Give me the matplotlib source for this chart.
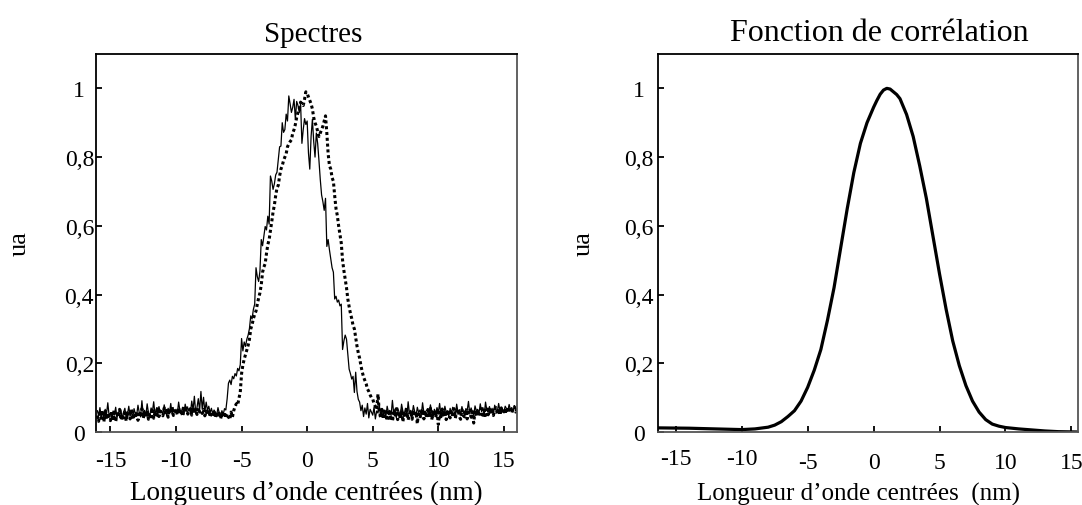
import numpy as np
import matplotlib
matplotlib.use("Agg")
from matplotlib import pyplot as plt

plt.rcParams['font.family'] = ['Liberation Serif', 'DejaVu Serif']

# wavelength grid of the two spectra (nm), 0.1 nm step from -16 to 16
wl = np.arange(-160, 161) / 10.0

# solid spectrum, one row per nm
spec_solid = [
    0.062, 0.048, 0.071, 0.044, 0.058, 0.039, 0.066, 0.052, 0.085, 0.047,
    0.055, 0.036, 0.061, 0.049, 0.072, 0.041, 0.058, 0.045, 0.064, 0.038,
    0.057, 0.069, 0.043, 0.052, 0.075, 0.046, 0.061, 0.040, 0.068, 0.053,
    0.049, 0.078, 0.056, 0.044, 0.091, 0.051, 0.063, 0.047, 0.082, 0.055,
    0.048, 0.070, 0.059, 0.088, 0.050, 0.067, 0.045, 0.074, 0.058, 0.062,
    0.051, 0.079, 0.060, 0.047, 0.069, 0.056, 0.083, 0.052, 0.064, 0.058,
    0.066, 0.054, 0.087, 0.061, 0.057, 0.072, 0.050, 0.081, 0.063, 0.059,
    0.068, 0.055, 0.090, 0.064, 0.104, 0.058, 0.071, 0.097, 0.062, 0.118,
    0.066, 0.101, 0.059, 0.087, 0.063, 0.075, 0.056, 0.069, 0.052, 0.064,
    0.058, 0.049, 0.071, 0.055, 0.046, 0.062, 0.051, 0.068, 0.064, 0.097,
    0.142, 0.151, 0.138, 0.162, 0.155, 0.170, 0.163, 0.185, 0.178, 0.196,
    0.272, 0.236, 0.262, 0.249, 0.270, 0.282, 0.301, 0.338, 0.329, 0.357,
    0.372, 0.478, 0.452, 0.438, 0.468, 0.560, 0.542, 0.571, 0.598, 0.588,
    0.628, 0.605, 0.745, 0.730, 0.706, 0.722, 0.748, 0.756, 0.792, 0.830,
    0.832, 0.900, 0.872, 0.880, 0.925, 0.905, 0.978, 0.955, 0.930, 0.945,
    0.968, 0.910, 0.962, 0.950, 0.930, 0.955, 0.840, 0.880, 0.912, 0.895,
    0.905, 0.812, 0.765, 0.860, 0.910, 0.845, 0.800, 0.870, 0.840, 0.790,
    0.735, 0.690, 0.670, 0.645, 0.680, 0.540, 0.560, 0.530, 0.505, 0.478,
    0.465, 0.387, 0.395, 0.378, 0.384, 0.367, 0.372, 0.240, 0.265, 0.282,
    0.270, 0.225, 0.183, 0.170, 0.154, 0.162, 0.115, 0.174, 0.118, 0.095,
    0.087, 0.062, 0.078, 0.045, 0.070, 0.052, 0.083, 0.041, 0.066, 0.058,
    0.049, 0.072, 0.038, 0.061, 0.055, 0.080, 0.046, 0.067, 0.052, 0.059,
    0.044, 0.075, 0.057, 0.063, 0.048, 0.092, 0.054, 0.066, 0.041, 0.070,
    0.058, 0.047, 0.081, 0.060, 0.052, 0.069, 0.043, 0.088, 0.055, 0.063,
    0.050, 0.077, 0.059, 0.046, 0.072, 0.057, 0.064, 0.049, 0.085, 0.056,
    0.061, 0.045, 0.068, 0.053, 0.079, 0.058, 0.042, 0.066, 0.054, 0.071,
    0.057, 0.083, 0.050, 0.064, 0.047, 0.075, 0.058, 0.062, 0.044, 0.069,
    0.055, 0.072, 0.060, 0.048, 0.081, 0.057, 0.065, 0.051, 0.074, 0.059,
    0.046, 0.068, 0.062, 0.089, 0.053, 0.070, 0.058, 0.049, 0.076, 0.061,
    0.066, 0.054, 0.082, 0.059, 0.071, 0.048, 0.087, 0.063, 0.057, 0.074,
    0.060, 0.069, 0.052, 0.078, 0.064, 0.058, 0.083, 0.061, 0.072, 0.066,
    0.059, 0.075, 0.068, 0.062, 0.080, 0.065, 0.071, 0.060, 0.077, 0.068,
    0.066,
]

# dotted spectrum
spec_dotted = [
    0.048, 0.031, 0.062, 0.040, 0.057, 0.029, 0.064, 0.037, 0.055, 0.043,
    0.033, 0.061, 0.039, 0.058, 0.030, 0.052, 0.044, 0.066, 0.035, 0.050,
    0.041, 0.063, 0.032, 0.056, 0.045, 0.038, 0.067, 0.036, 0.054, 0.042,
    0.060, 0.034, 0.053, 0.046, 0.068, 0.039, 0.057, 0.043, 0.062, 0.037,
    0.055, 0.044, 0.069, 0.040, 0.058, 0.049, 0.072, 0.045, 0.061, 0.051,
    0.047, 0.070, 0.052, 0.063, 0.043, 0.067, 0.054, 0.074, 0.048, 0.060,
    0.066, 0.050, 0.071, 0.053, 0.064, 0.046, 0.069, 0.057, 0.075, 0.052,
    0.060, 0.068, 0.049, 0.072, 0.055, 0.065, 0.051, 0.070, 0.058, 0.063,
    0.054, 0.066, 0.047, 0.061, 0.050, 0.064, 0.043, 0.059, 0.046, 0.062,
    0.041, 0.057, 0.044, 0.060, 0.038, 0.055, 0.042, 0.058, 0.040, 0.053,
    0.045, 0.036, 0.058, 0.043, 0.062, 0.074, 0.082, 0.078, 0.098, 0.116,
    0.170, 0.195, 0.212, 0.225, 0.238, 0.252, 0.270, 0.300, 0.312, 0.330,
    0.342, 0.352, 0.372, 0.390, 0.405, 0.428, 0.465, 0.480, 0.490, 0.520,
    0.545, 0.560, 0.585, 0.612, 0.640, 0.660, 0.688, 0.710, 0.718, 0.745,
    0.765, 0.775, 0.790, 0.800, 0.810, 0.830, 0.838, 0.845, 0.850, 0.870,
    0.880, 0.895, 0.915, 0.930, 0.940, 0.960, 0.955, 0.950, 0.968, 0.990,
    0.985, 0.975, 0.965, 0.955, 0.940, 0.915, 0.900, 0.890, 0.875, 0.860,
    0.870, 0.880, 0.890, 0.905, 0.920, 0.870, 0.810, 0.775, 0.765, 0.740,
    0.730, 0.687, 0.650, 0.630, 0.600, 0.575, 0.550, 0.500, 0.470, 0.445,
    0.420, 0.387, 0.365, 0.345, 0.330, 0.310, 0.300, 0.275, 0.250, 0.230,
    0.215, 0.193, 0.175, 0.160, 0.150, 0.140, 0.125, 0.118, 0.108, 0.100,
    0.096, 0.082, 0.074, 0.065, 0.110, 0.058, 0.042, 0.066, 0.038, 0.061,
    0.047, 0.033, 0.064, 0.040, 0.058, 0.031, 0.055, 0.044, 0.068, 0.036,
    0.057, 0.039, 0.062, 0.030, 0.059, 0.042, 0.066, 0.035, 0.053, 0.061,
    0.037, 0.064, 0.045, 0.058, 0.024, 0.060, 0.040, 0.057, 0.066, 0.038,
    0.061, 0.041, 0.065, 0.044, 0.069, 0.036, 0.058, 0.063, 0.042, 0.060,
    0.022, 0.058, 0.039, 0.067, 0.045, 0.062, 0.036, 0.064, 0.048, 0.041,
    0.063, 0.043, 0.068, 0.040, 0.060, 0.066, 0.045, 0.037, 0.065, 0.048,
    0.044, 0.064, 0.038, 0.061, 0.067, 0.043, 0.059, 0.026, 0.063, 0.047,
    0.065, 0.045, 0.062, 0.068, 0.042, 0.064, 0.048, 0.067, 0.050, 0.070,
    0.051, 0.069, 0.048, 0.066, 0.071, 0.052, 0.068, 0.049, 0.070, 0.055,
    0.068, 0.052, 0.071, 0.056, 0.069, 0.072, 0.055, 0.070, 0.073, 0.058,
    0.066,
]

# correlation function, read point by point
corr_x = [-16.35, -14, -12, -10, -9, -8, -7.5, -7, -6.5, -6, -5.5, -5,
          -4.5, -4, -3.5, -3, -2.5, -2, -1.5, -1, -0.5, 0, 0.25, 0.5, 0.75,
          1, 1.25, 1.5, 1.75, 2, 2.5, 3, 3.5, 4, 4.5, 5, 5.5, 6, 6.5, 7,
          7.5, 8, 8.5, 9, 9.5, 10, 11, 12, 13, 14, 15.5]
corr_y = [0.012, 0.011, 0.009, 0.007, 0.009, 0.014, 0.02, 0.03, 0.045,
          0.062, 0.09, 0.13, 0.18, 0.24, 0.325, 0.42, 0.535, 0.65, 0.755,
          0.84, 0.90, 0.945, 0.965, 0.983, 0.995, 1.0, 0.998, 0.99, 0.982,
          0.97, 0.924, 0.86, 0.774, 0.68, 0.57, 0.46, 0.357, 0.265, 0.193,
          0.135, 0.09, 0.058, 0.036, 0.023, 0.017, 0.013, 0.009, 0.006,
          0.003, 0.001, 0.0]

xticks = [-15, -10, -5, 0, 5, 10, 15]
yticks = [0, 0.2, 0.4, 0.6, 0.8, 1]
ylabels = ['0', '0,2', '0,4', '0,6', '0,8', '1']


def style(ax, xpad, ypad):
    ax.set_ylim(0, 1.1)
    ax.set_xticks(xticks)
    ax.set_xticklabels([str(t) for t in xticks])
    ax.set_yticks(yticks)
    ax.set_yticklabels(ylabels)
    ax.tick_params(direction='in', length=4, width=1.3, labelsize=17,
                   top=False, right=False)
    ax.tick_params(axis='x', pad=xpad)
    ax.tick_params(axis='y', pad=ypad)
    for lbl in ax.get_yticklabels():
        lbl.set_horizontalalignment('center')
    for s in ['left', 'top']:
        ax.spines[s].set_linewidth(1.3)
        ax.spines[s].set_color('black')
    for s in ['bottom', 'right']:
        ax.spines[s].set_linewidth(1.3)
        ax.spines[s].set_color('#555555')


fig = plt.figure(figsize=(10.82, 5.06), dpi=100)

ax1 = fig.add_axes([96 / 1082, 73 / 506, 421 / 1082, 378 / 506])
ax1.plot(wl, spec_solid, color='black', lw=0.9)
ax1.plot(wl, spec_dotted, color='black', lw=2.2, linestyle=(0, (1, 0.9)))
ax1.set_xlim(-16.1, 16.0)
style(ax1, 13, 12)
ax1.set_title('Spectres', fontsize=21, x=0.515, pad=9)
ax1.set_xlabel('Longueurs d\u2019onde centrées (nm)', fontsize=19.5)
ax1.xaxis.set_label_coords(0.5, -0.126)
ax1.set_ylabel('ua', fontsize=19)
ax1.yaxis.set_label_coords(-0.155, 0.5)

ax2 = fig.add_axes([658 / 1082, 73 / 506, 420 / 1082, 378 / 506])
ax2.plot(corr_x, corr_y, color='black', lw=2.3)
ax2.set_xlim(-16.35, 15.5)
style(ax2, 14.5, 14)
# the first two tick labels sit a little higher in the reference
for t in ax2.xaxis.get_major_ticks()[:2]:
    t.set_pad(11.5)
ax2.set_title('Fonction de corrélation', fontsize=23, x=0.528, pad=10)
ax2.set_xlabel('Longueur d\u2019onde centrées  (nm)', fontsize=18)
ax2.xaxis.set_label_coords(0.477, -0.132)
ax2.set_ylabel('ua', fontsize=19)
ax2.yaxis.set_label_coords(-0.15, 0.5)

fig.savefig('out.png', dpi=100)
